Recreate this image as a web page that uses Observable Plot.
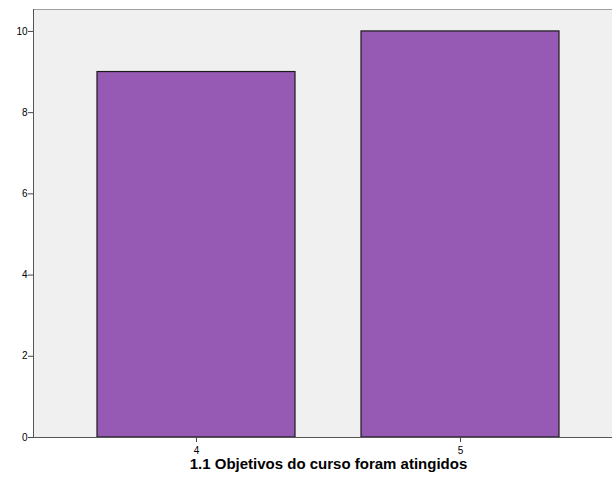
<!DOCTYPE html>
<html>
<head>
<meta charset="utf-8">
<script src="https://cdn.jsdelivr.net/npm/d3@7"></script>
<script src="https://cdn.jsdelivr.net/npm/@observablehq/plot@0.6"></script>
<style>
  html, body { margin: 0; padding: 0; background: #fff; }
  svg { display: block; }
</style>
</head>
<body>
<div id="chart"></div>
<script>
const categories = ["4", "5"];
const counts = [9, 10];
const yTicks = [0, 2, 4, 6, 8, 10];
const xTitle = "1.1 Objetivos do curso foram atingidos";

const data = categories.map((c, i) => ({category: c, count: counts[i]}));

const chart = Plot.plot({
  width: 612,
  height: 485,
  marginLeft: 33,
  marginRight: 0,
  marginTop: 9,
  marginBottom: 48,
  style: {fontFamily: "Arial, 'Liberation Sans', sans-serif", fontSize: "10px", color: "#000", background: "#fff"},
  x: {domain: categories, range: [33, 623], paddingInner: 0.249, paddingOuter: 0.238, axis: null},
  y: {domain: [0, 10.54], axis: null},
  marks: [
    Plot.frame({fill: "#f0f0f0", stroke: null}),
    Plot.frame({anchor: "top", stroke: "#a0a0a0"}),
    Plot.barY(data, {x: "category", y: "count", fill: "#9659b4", stroke: "#1a1a1a", strokeWidth: 1.2}),
    Plot.frame({anchor: "left", stroke: "#555"}),
    Plot.frame({anchor: "bottom", stroke: "#555"}),
    Plot.axisY({ticks: yTicks, tickSize: 5, tickPadding: 1, label: null, stroke: "#444", tickFormat: d => String(d)}),
    Plot.axisX({tickSize: 5, tickPadding: 4, label: null, stroke: "#444"}),
    Plot.text([xTitle], {frameAnchor: "bottom", dy: 31.5, dx: 5.5, fontWeight: "bold", fontSize: 15, fill: "#000"})
  ]
});
document.getElementById("chart").append(chart);
</script>
</body>
</html>
